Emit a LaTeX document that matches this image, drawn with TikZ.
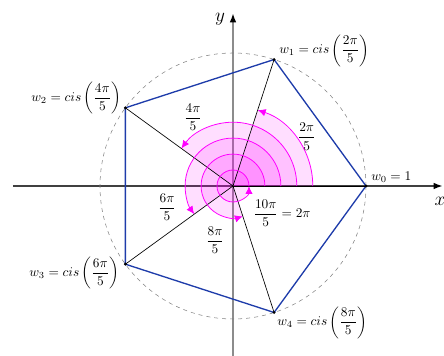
\documentclass[tikz,border=0pt]{standalone}
\usepackage{amsmath}
\usetikzlibrary{arrows.meta}
\definecolor{mag}{RGB}{255,0,255}
\definecolor{polyblue}{RGB}{30,60,170}
\begin{document}
\begin{tikzpicture}[x=0.75pt,y=0.75pt,
  axisx/.style={line width=1.4pt, black!75, -{Latex[length=7pt,width=5pt,black]}},
  axisy/.style={line width=1.4pt, black!45, -{Latex[length=7pt,width=5pt,black]}},
  poly/.style={line width=1pt, draw=polyblue, line join=round},
  radial/.style={line width=0.5pt, black},
  sector/.style={fill=mag, fill opacity=0.13},
  arcarrow/.style={line width=0.6pt, mag, -{Latex[length=6pt,width=5.5pt]}},
  ptdot/.style={fill=black},
  lbl/.style={inner sep=0pt},
  ang/.style={inner sep=0pt}]
\useasboundingbox (-233,-170) rectangle (211,186);
\coordinate (O) at (0,0);
\coordinate (xs) at (-220,0);
\coordinate (xe) at (210,0);
\coordinate (ys) at (0,-172);
\coordinate (ye) at (0,173);
\draw[axisx] (xs) -- (xe);
\draw[axisy] (ys) -- (ye);
\node[font=\Large, inner sep=0pt] (xl) at (207,-15) {$x$};
\node[font=\Large, inner sep=0pt] (yl) at (-13,167) {$y$};
\draw[dashed, black!50, line width=0.4pt] (O) circle[radius=133];
% sectors
\fill[sector] (O) -- (0:79.8) arc[start angle=0, end angle=72, radius=79.8] -- cycle;
\fill[sector] (O) -- (0:63.8) arc[start angle=0, end angle=144, radius=63.8] -- cycle;
\fill[sector] (O) -- (0:47.9) arc[start angle=0, end angle=216, radius=47.9] -- cycle;
\fill[sector] (O) -- (0:31.9) arc[start angle=0, end angle=288, radius=31.9] -- cycle;
\fill[sector] (O) circle[radius=16];
% points
\foreach \k in {0,...,4} {\coordinate (w\k) at (72*\k:133);}
\draw[poly] (w0) -- (w1) -- (w2) -- (w3) -- (w4) -- cycle;
\foreach \k in {0,...,4} {\draw[radial] (O) -- (w\k);}
% arcs
\draw[arcarrow] (0:79.8) arc[start angle=0, end angle=72, radius=79.8];
\draw[arcarrow] (0:63.8) arc[start angle=0, end angle=144, radius=63.8];
\draw[arcarrow] (0:47.9) arc[start angle=0, end angle=216, radius=47.9];
\draw[arcarrow] (0:31.9) arc[start angle=0, end angle=288, radius=31.9];
\draw[arcarrow] (0:16) arc[start angle=0, end angle=360, radius=16];
\foreach \k in {0,...,4} {\fill[ptdot] (w\k) circle[radius=1.6];}
% labels
\node[lbl, anchor=west] (l0) at ([shift={(5,9)}]w0) {$w_0 = 1$};
\node[lbl, anchor=west] (l1) at ([shift={(5,9)}]w1) {$w_1 = cis\left(\dfrac{2\pi}{5}\right)$};
\node[lbl, anchor=east] (l2) at ([shift={(-4,10)}]w2) {$w_2 = cis\left(\dfrac{4\pi}{5}\right)$};
\node[lbl, anchor=east] (l3) at ([shift={(-6,-9)}]w3) {$w_3 = cis\left(\dfrac{6\pi}{5}\right)$};
\node[lbl, anchor=west] (l4) at ([shift={(3,-10)}]w4) {$w_4 = cis\left(\dfrac{8\pi}{5}\right)$};
\node[ang] (a1) at (73.7,49.3) {$\dfrac{2\pi}{5}$};
\node[ang] (a2) at (-40,69) {$\dfrac{4\pi}{5}$};
\node[ang] (a3) at (-66,-21) {$\dfrac{6\pi}{5}$};
\node[ang] (a4) at (-18,-54) {$\dfrac{8\pi}{5}$};
\node[ang] (a5) at (49,-27) {$\dfrac{10\pi}{5} = 2\pi$};
\end{tikzpicture}
\end{document}
